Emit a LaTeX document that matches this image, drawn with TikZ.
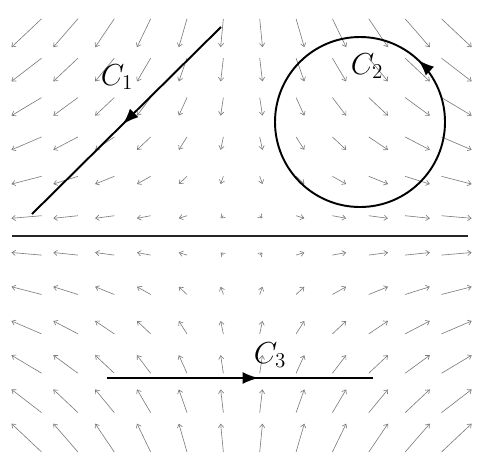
\documentclass[tikz,border=0pt]{standalone}
\usepackage{amsmath}
\usepackage{xcolor}
\usetikzlibrary{positioning,arrows.meta,decorations.markings}
\definecolor{FieldGray}{HTML}{7A7A7A}

\begin{document}
\begin{tikzpicture}[
  x=0.02cm, y=-0.02cm,
  fieldarr/.style={-{Straight Barb[length=2pt,width=3pt]}, draw=FieldGray, line width=0.35pt},
  curve/.style={draw=black, line width=1.1pt},
  midarr/.style={postaction={decorate, decoration={markings,
    mark=at position #1 with {\arrow{Latex[length=3.2mm,width=2.4mm]}}}}},
  lbl/.style={font=\LARGE, inner sep=0pt}
]
  \useasboundingbox (0,0) rectangle (479,467);

  % saddle field F=(x,-y)
  \foreach \i in {0,...,11}{
    \foreach \j in {0,...,11}{
      \pgfmathsetmacro{\px}{26.5+39.1*\i}
      \pgfmathsetmacro{\py}{33+36.8*\j}
      \pgfmathsetmacro{\dx}{0.07*(\px-241.3)}
      \pgfmathsetmacro{\dy}{0.07*(235.4-\py)}
      \draw[fieldarr] ({\px-(\dx)},{\py-(\dy)}) -- ({\px+(\dx)},{\py+(\dy)});
    }
  }

  % axis
  \coordinate (axl) at (12,236);
  \coordinate (axr) at (468,236);
  \draw[draw=black!85, line width=0.8pt] (axl) -- (axr);

  % C1
  \coordinate (c1a) at (221,27);
  \coordinate (c1b) at (32,214);
  \draw[curve, midarr=0.52] (c1a) -- (c1b);
  \node[lbl] (c1) at (117,77) {$C_1$};

  % C2
  \coordinate (c2o) at (360,122);
  \draw[curve, midarr=0.13] (445,122) arc[start angle=0, end angle=-360, radius=85];
  \node[lbl] (c2) at (367,66) {$C_2$};

  % C3
  \coordinate (c3a) at (107,378);
  \coordinate (c3b) at (373,378);
  \draw[curve, midarr=0.57] (c3a) -- (c3b);
  \node[lbl] (c3) at (270,355) {$C_3$};
\end{tikzpicture}
\end{document}
